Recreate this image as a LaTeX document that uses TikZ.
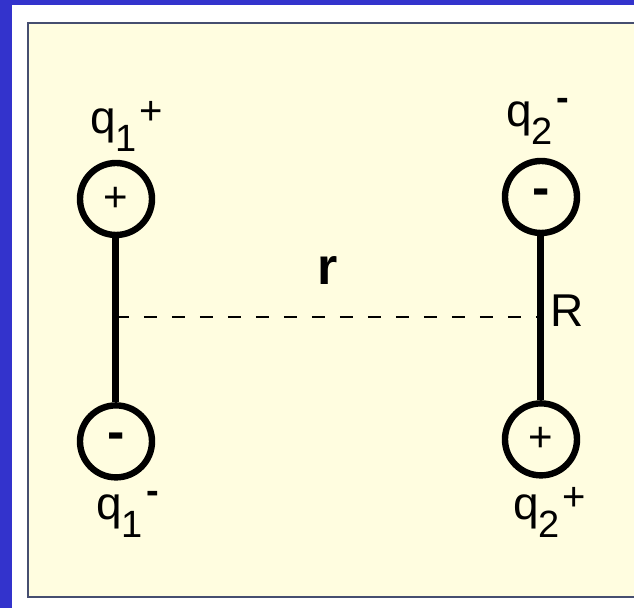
\documentclass[tikz,border=0pt]{standalone}
\usepackage{fontspec}
\setmainfont{Liberation Sans}
\usetikzlibrary{positioning}

\definecolor{frameblue}{RGB}{51,51,204}
\definecolor{cream}{RGB}{255,253,224}
\definecolor{panelline}{RGB}{70,78,112}

\newcommand{\subfont}{\fontsize{19}{19}\selectfont}
\newcommand{\qname}[2]{q\raisebox{-9pt}{\subfont #1}#2}
\newcommand{\plussign}{\kern1pt\raisebox{4.5pt}{\fontsize{20}{20}\selectfont +}}
\newcommand{\minussign}{\kern1.5pt\raisebox{8pt}{\subfont\bfseries -}}

\begin{document}
\begin{tikzpicture}[
  x=0.5pt, y=-0.5pt,
  charge/.style={draw, circle, line width=3.2pt, minimum size=36pt, inner sep=0pt, font=\fontsize{21}{21}\selectfont},
  rod/.style={line width=3.5pt},
  qlabel/.style={anchor=base west, inner sep=0pt, font=\fontsize{23}{23}\selectfont},
  gap/.style={line width=1pt, dash pattern=on 6.5pt off 7.5pt}
]
\useasboundingbox (0,0) rectangle (634,608);
\fill[frameblue] (0,0) rectangle (634,608);
\fill[white] (12,5) rectangle (634,608);
\draw[panelline, line width=1.3pt, fill=cream] (28,23) rectangle (660,597);

\node[charge] (a1) at (116,199) {+};
\node[charge] (a2) [below=82pt of a1] {\fontsize{26}{26}\selectfont\bfseries -};
\node[charge] (b1) at (541,197) {\fontsize{26}{26}\selectfont\bfseries -};
\node[charge] (b2) [below=82pt of b1] {+};

\draw[rod] (a1) -- (a2);
\draw[rod] (b1) -- (b2);

\coordinate (m1) at (116,317);
\coordinate (m2) at (541,317);
\draw[gap] (m1) -- (m2);

\node[qlabel] (q1p) at (90,134) {\qname{1}{\plussign}};
\node[qlabel] (q2m) at (506,127) {\qname{2}{\minussign}};
\node[qlabel] (q1m) at (96,520) {\qname{1}{\minussign}};
\node[qlabel] (q2p) at (513,520) {\qname{2}{\plussign}};

\node[anchor=base, inner sep=0pt, font=\fontsize{26}{26}\selectfont\bfseries] (r) at (328,285) {r};
\node[qlabel] (R) at (550,327) {R};
\end{tikzpicture}
\end{document}
